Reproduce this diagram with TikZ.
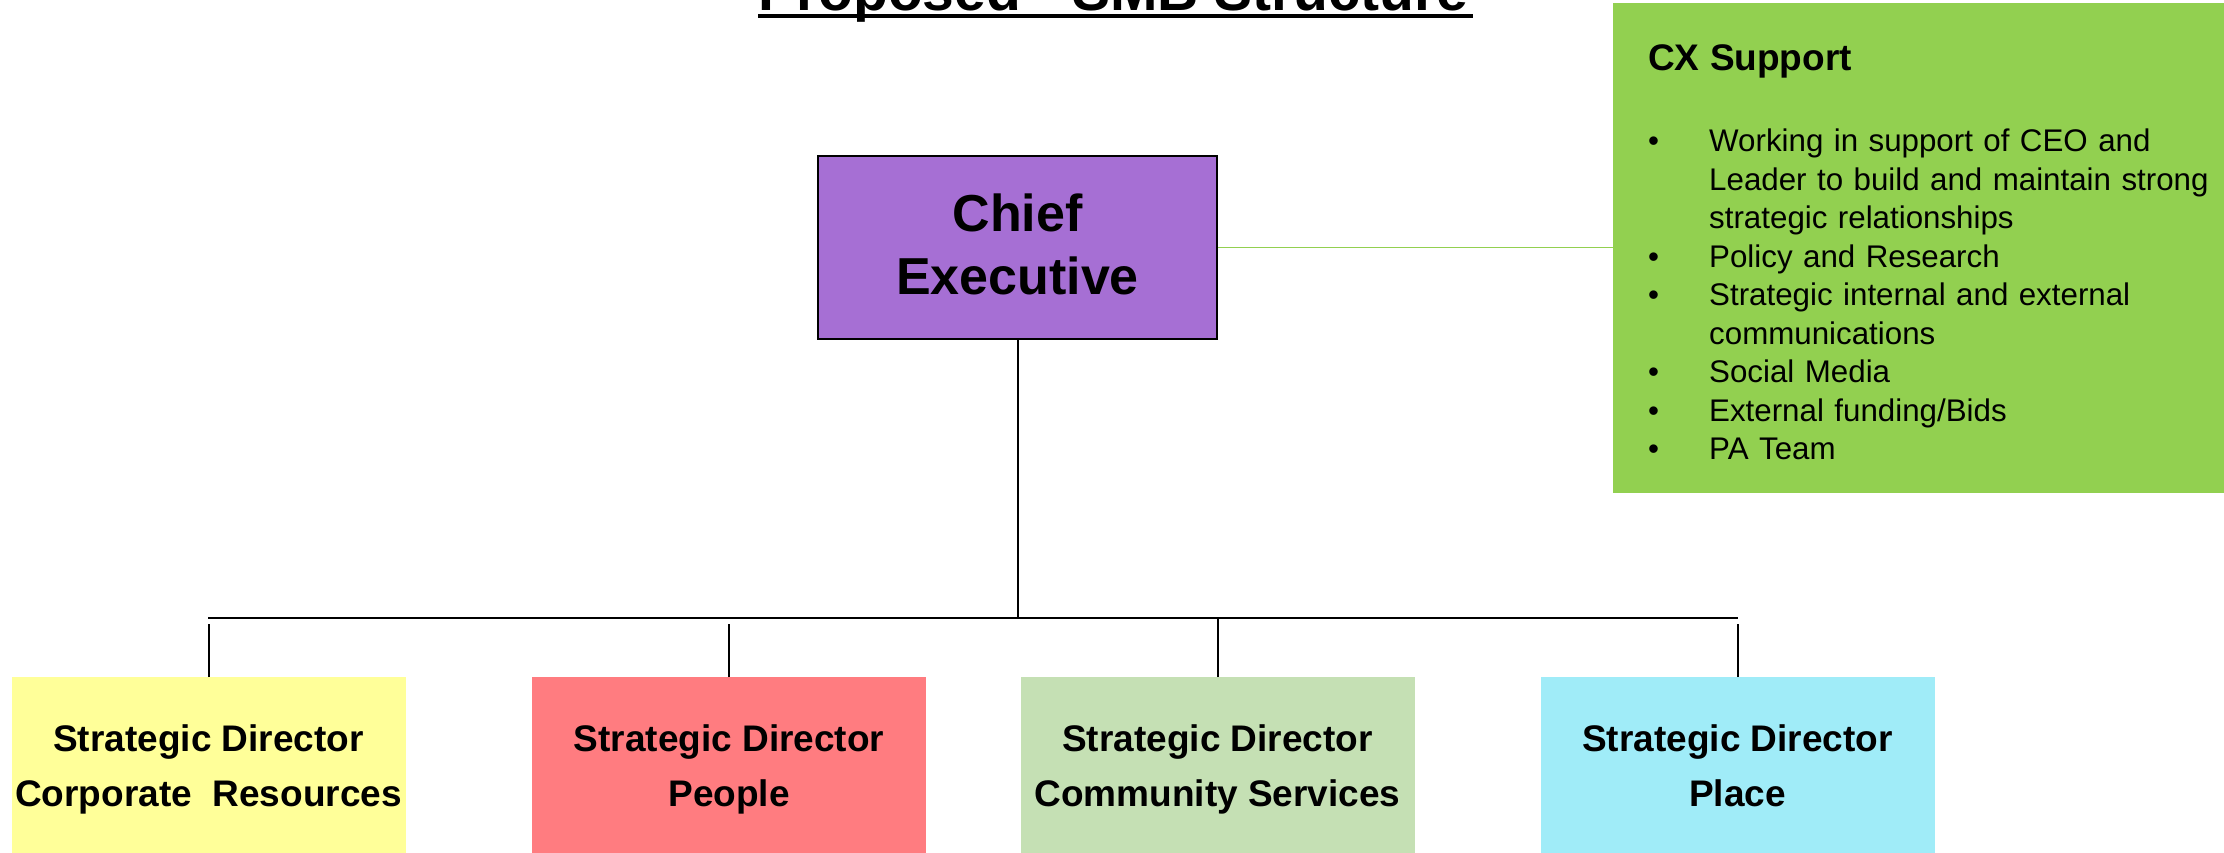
\documentclass[tikz,border=0pt]{standalone}
\usepackage{fontspec}
\setmainfont{Liberation Sans}
\definecolor{cepurple}{HTML}{A66FD4}
\definecolor{cxgreen}{HTML}{92D050}
\definecolor{sdyellow}{HTML}{FFFF99}
\definecolor{sdrose}{HTML}{FF7C80}
\definecolor{sdgreen}{HTML}{C5E0B4}
\definecolor{sdcyan}{HTML}{A0ECF8}
\newcommand{\bl}{\makebox[61pt][l]{\textbullet}}
\newcommand{\ind}{\hspace*{61pt}}
\begin{document}
\begin{tikzpicture}[x=1pt,y=-1pt,
  dirbox/.style={minimum width=394pt, minimum height=184pt, inner sep=0pt, anchor=north, align=center, font=\bfseries\fontsize{37}{55}\selectfont},
  conn/.style={line width=2pt, black},
  cxbox/.style={fill=cxgreen, text width=600pt, inner xsep=35pt, inner ysep=0pt, minimum height=490pt, align=left, anchor=north west, font=\fontsize{31.3}{38.5}\selectfont},
  cebox/.style={draw=black, line width=2.2pt, fill=cepurple, minimum width=399pt, minimum height=183pt, inner sep=0pt, align=center, font=\bfseries\fontsize{52}{63}\selectfont},
  titletext/.style={anchor=base west, inner sep=0pt, font=\bfseries\fontsize{57}{60}\selectfont}]
\useasboundingbox (0,0) rectangle (2224,852);
\clip (0,0) rectangle (2224,852);
% title (cut at top, as in the reference)
\node[titletext] (title) at (758,10) {Proposed\hspace{51pt}SMB Structure};
\draw[line width=4pt] ([yshift=-5.5pt]title.base west) -- ([yshift=-5.5pt,xshift=5pt]title.base east);
% chief executive
\node[cebox] (ce) at (1017.5,247.5) {Chief\\Executive\rule[-6pt]{0pt}{6pt}};
% CX support
\node[cxbox] (cx) at (1613,3) {%
{\bfseries\fontsize{37}{38.5}\selectfont\rule{0pt}{34pt}CX Support}\\[42.5pt]
\bl Working in support of CEO and\\
\ind Leader to build and maintain strong\\
\ind strategic relationships\\
\bl Policy and Research\\
\bl Strategic internal and external\\
\ind communications\\
\bl Social Media\\
\bl External funding/Bids\\
\bl PA Team};
% directors
\node[dirbox, fill=sdyellow] (yel) at (208.5,677) {Strategic Director\\Corporate\ \ Resources\vphantom{y}};
\node[dirbox, fill=sdrose] (red) at (729,677) {Strategic Director\\People\vphantom{y}};
\node[dirbox, fill=sdgreen] (cs) at (1217.5,677) {Strategic Director\\Community Services\vphantom{y}};
\node[dirbox, fill=sdcyan] (pl) at (1737.5,677) {Strategic Director\\Place\vphantom{y}};
% connectors
\coordinate (busL) at (208,618);
\coordinate (busR) at (1738,618);
\coordinate (dropTop) at (0,624);
\draw[conn] (busL) -- (busR);
\draw[conn] (ce.south) -- (ce.south |- busL);
\draw[conn] (yel.north) -- (yel.north |- dropTop);
\draw[conn] (red.north) -- (red.north |- dropTop);
\draw[conn] (cs.north) -- (cs.north |- busL);
\draw[conn] (pl.north) -- (pl.north |- dropTop);
\draw[line width=1.8pt, cxgreen] (ce.east) -- (ce.east -| cx.west);
\end{tikzpicture}
\end{document}
